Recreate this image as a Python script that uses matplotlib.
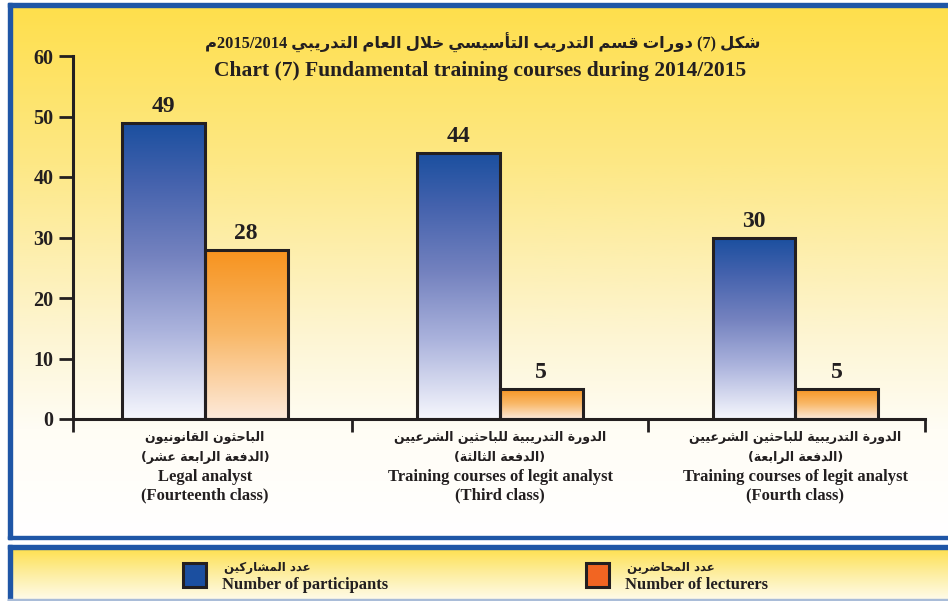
import numpy as np
import matplotlib
matplotlib.use("Agg")
import matplotlib.pyplot as plt
from matplotlib.colors import LinearSegmentedColormap
from matplotlib.patches import Rectangle

# ---- data ----
categories_ar = ["الباحثون القانونيون",
                 "الدورة التدريبية للباحثين الشرعيين",
                 "الدورة التدريبية للباحثين الشرعيين"]
classes_ar = ["(الدفعة الرابعة عشر)", "(الدفعة الثالثة)", "(الدفعة الرابعة)"]
categories_en = ["Legal analyst",
                 "Training courses of legit analyst",
                 "Training courses of legit analyst"]
classes_en = ["(Fourteenth class)", "(Third class)", "(Fourth class)"]
participants = [49, 44, 30]
lecturers = [28, 5, 5]
series_ar = ["عدد المشاركين", "عدد المحاضرين"]
series_en = ["Number of participants", "Number of lecturers"]
title_ar = "شكل (7) دورات قسم التدريب التأسيسي خلال العام التدريبي 2015/2014م"
title_en = "Chart (7) Fundamental training courses during 2014/2015"
yticks = [0, 10, 20, 30, 40, 50, 60]

# ---- minimal arabic shaping + rtl ordering (matplotlib has no shaping) ----
DUAL = {'ئ': 0xFE89, 'ب': 0xFE8F, 'ت': 0xFE95, 'ث': 0xFE99, 'ج': 0xFE9D, 'ح': 0xFEA1,
        'خ': 0xFEA5, 'س': 0xFEB1, 'ش': 0xFEB5, 'ص': 0xFEB9, 'ض': 0xFEBD, 'ط': 0xFEC1,
        'ظ': 0xFEC5, 'ع': 0xFEC9, 'غ': 0xFECD, 'ف': 0xFED1, 'ق': 0xFED5, 'ك': 0xFED9,
        'ل': 0xFEDD, 'م': 0xFEE1, 'ن': 0xFEE5, 'ه': 0xFEE9, 'ي': 0xFEF1}
RIGHT = {'آ': 0xFE81, 'أ': 0xFE83, 'ؤ': 0xFE85, 'إ': 0xFE87, 'ا': 0xFE8D, 'ة': 0xFE93,
         'د': 0xFEA9, 'ذ': 0xFEAB, 'ر': 0xFEAD, 'ز': 0xFEAF, 'و': 0xFEED, 'ى': 0xFEEF}
LAMALEF = {'آ': 0xFEF5, 'أ': 0xFEF7, 'إ': 0xFEF9, 'ا': 0xFEFB}
MIRROR = {'(': ')', ')': '('}


def shape(s):
    out = []
    i = 0
    prev_joins = False
    while i < len(s):
        c = s[i]
        nxt = s[i + 1] if i + 1 < len(s) else ''
        if c == 'ل' and nxt in LAMALEF:
            out.append(chr(LAMALEF[nxt] + (1 if prev_joins else 0)))
            prev_joins = False
            i += 2
            continue
        if c in DUAL:
            nj = nxt in DUAL or nxt in RIGHT
            if prev_joins and nj:
                out.append(chr(DUAL[c] + 3))
            elif prev_joins:
                out.append(chr(DUAL[c] + 1))
            elif nj:
                out.append(chr(DUAL[c] + 2))
            else:
                out.append(chr(DUAL[c]))
            prev_joins = nj
        elif c in RIGHT:
            out.append(chr(RIGHT[c] + (1 if prev_joins else 0)))
            prev_joins = False
        else:
            out.append(c)
            prev_joins = False
        i += 1
    return ''.join(out)


def ar(s):
    s = shape(s)
    runs = []
    for c in s:
        ltr = c.isascii() and (c.isalnum() or c in '/.')
        if runs and runs[-1][0] == ltr:
            runs[-1][1].append(c)
        else:
            runs.append([ltr, [c]])
    parts = []
    for ltr, chars in reversed(runs):
        if ltr:
            parts.append(''.join(chars))
        else:
            parts.append(''.join(MIRROR.get(c, c) for c in reversed(chars)))
    return ''.join(parts)


SERIF = 'Liberation Serif'
ARAB = [SERIF, 'DejaVu Sans']
SANS_AR = 'DejaVu Sans'
INK = '#231f20'

W, H = 948, 601
fig = plt.figure(figsize=(W / 100, H / 100), dpi=100)

# ---- background panels (pixel coordinates) ----
bg = fig.add_axes([0, 0, 1, 1])
bg.axis('off')

yellow = LinearSegmentedColormap.from_list(
    'yel', [(0.0, '#ffdf4c'), (0.3, '#fde886'), (0.62, '#fdf5d2'),
            (0.8, '#fffdf5'), (1.0, '#ffffff')])
grad = np.linspace(0, 1, 256).reshape(-1, 1)
bg.imshow(grad, cmap=yellow, extent=[12, W, 535, 6], aspect='auto', zorder=0)
bg.add_patch(Rectangle((8, 3), W, 3.5, color='#1f56a6', zorder=2))
bg.add_patch(Rectangle((8, 3), 4, 536, color='#1f56a6', zorder=2))
bg.add_patch(Rectangle((8, 536), W, 2.5, color='#1f56a6', zorder=2))

legend_cm = LinearSegmentedColormap.from_list(
    'leg', [(0.0, '#ffe04e'), (0.5, '#fdeea0'), (1.0, '#fffbe8')])
bg.imshow(grad, cmap=legend_cm, extent=[12, W, 599, 548], aspect='auto', zorder=0)
bg.add_patch(Rectangle((8, 545), W, 3.5, color='#1f56a6', zorder=2))
bg.add_patch(Rectangle((8, 545), 4, 56, color='#1f56a6', zorder=2))
bg.add_patch(Rectangle((8, 599), W, 2, color='#a9bcd8', zorder=2))
bg.set_xlim(0, W)
bg.set_ylim(H, 0)

# legend
legend_colors = ['#1b4fa0', '#f26522']
legend_x = [183, 586]
for k in range(2):
    bg.add_patch(Rectangle((legend_x[k], 563), 23, 24, facecolor=legend_colors[k],
                           edgecolor=INK, linewidth=2.2, zorder=3))
    bg.text(legend_x[k] + 41, 567, ar(series_ar[k]), family=SANS_AR, fontsize=8.5,
            fontweight='bold', color=INK, ha='left', va='center')
    bg.text(legend_x[k] + 39, 585, series_en[k], family=SERIF, fontsize=12,
            fontweight='bold', color=INK, ha='left', va='center')

# titles
bg.text(483, 43, ar(title_ar), family=ARAB, fontsize=11.8, fontweight='bold',
        color=INK, ha='center', va='center')
bg.text(480, 71, title_en, family=SERIF, fontsize=15.5, fontweight='bold',
        color=INK, ha='center', va='center')

# ---- chart axes ----
x_left, x_right, y_bot, y_top = 73, 925, 419, 56
ax = fig.add_axes([x_left / W, (H - y_bot) / H, (x_right - x_left) / W, (y_bot - y_top) / H])
ax.patch.set_alpha(0)

x = np.arange(len(participants))
bw = 0.28
xmin, xmax = -0.447, 2.44

b1 = ax.bar(x - bw / 2, participants, bw, facecolor='none', edgecolor=INK, linewidth=2.2, zorder=3)
b2 = ax.bar(x + bw / 2, lecturers, bw, facecolor='none', edgecolor=INK, linewidth=2.2, zorder=3)

blue_cm = LinearSegmentedColormap.from_list(
    'blue', [(0.0, '#f6f7fd'), (0.3, '#aab2dc'), (0.55, '#7482bf'), (0.8, '#4462ad'), (1.0, '#1a4f9f')])
orange_cm = LinearSegmentedColormap.from_list(
    'orange', [(0.0, '#fdeadb'), (0.5, '#f9b868'), (1.0, '#f7931e')])
for bars, cm in ((b1, blue_cm), (b2, orange_cm)):
    for p in bars:
        x0, w, h = p.get_x(), p.get_width(), p.get_height()
        ax.imshow(grad, cmap=cm, origin='lower', extent=[x0, x0 + w, 0, h],
                  aspect='auto', zorder=2)

for bars in (b1, b2):
    ax.bar_label(bars, padding=4, fontsize=17, fontweight='bold', family=SERIF, color=INK)

ax.set_xlim(xmin, xmax)
ax.set_ylim(0, 60)
ax.set_yticks(yticks)
ax.set_yticklabels([str(t) for t in yticks], family=SERIF, fontsize=14.5,
                   fontweight='bold', color=INK)
ax.set_xticks([xmin, 0.5, 1.5, xmax])
ax.set_xticklabels([])
ax.tick_params(axis='y', direction='out', length=10, width=2, color=INK, pad=4)
ax.tick_params(axis='x', direction='out', length=9, width=2, color=INK)
for side in ('top', 'right'):
    ax.spines[side].set_visible(False)
for side in ('left', 'bottom'):
    ax.spines[side].set_linewidth(2.2)
    ax.spines[side].set_color(INK)
ax.spines['left'].set_bounds(0, 60)

# category labels
for i in range(len(x)):
    ax.annotate(ar(categories_ar[i]), (x[i], 0), xytext=(0, -13), textcoords='offset points',
                ha='center', va='center', family=SANS_AR, fontsize=9, fontweight='bold', color=INK)
    ax.annotate(ar(classes_ar[i]), (x[i], 0), xytext=(0, -28), textcoords='offset points',
                ha='center', va='center', family=SANS_AR, fontsize=9, fontweight='bold', color=INK)
    ax.annotate(categories_en[i], (x[i], 0), xytext=(0, -42), textcoords='offset points',
                ha='center', va='center', family=SERIF, fontsize=12, fontweight='bold', color=INK)
    ax.annotate(classes_en[i], (x[i], 0), xytext=(0, -55), textcoords='offset points',
                ha='center', va='center', family=SERIF, fontsize=12, fontweight='bold', color=INK)

fig.savefig('out.png', dpi=100)
